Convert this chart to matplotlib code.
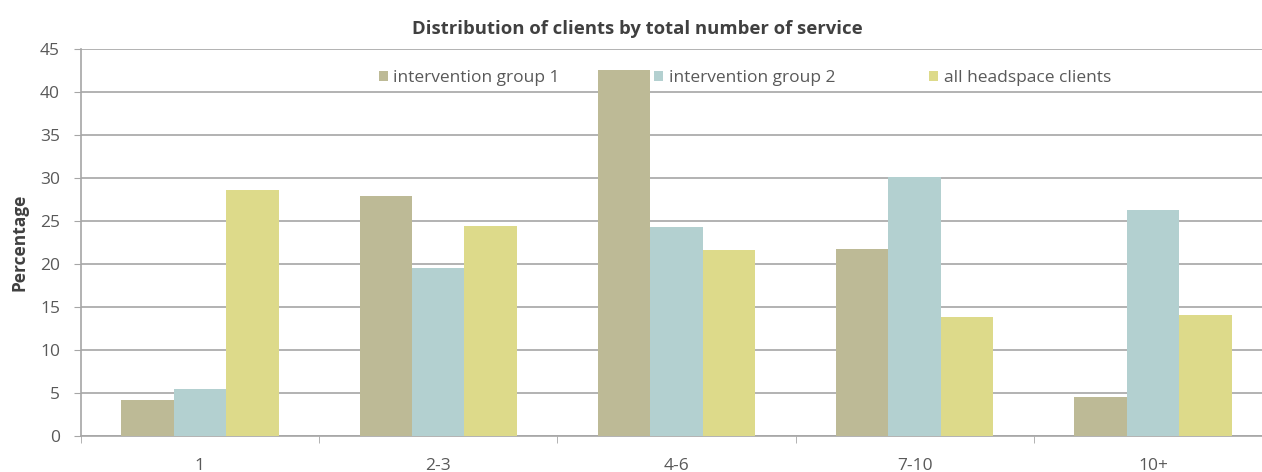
import numpy as np
import matplotlib.pyplot as plt

# Data
categories = ["1", "2-3", "4-6", "7-10", "10+"]
series_names = ["intervention group 1", "intervention group 2", "all headspace clients"]
group1 = [4.2, 27.9, 42.6, 21.7, 4.5]
group2 = [5.5, 19.5, 24.3, 30.1, 26.3]
all_clients = [28.6, 24.4, 21.6, 13.8, 14.1]
y_ticks = [0, 5, 10, 15, 20, 25, 30, 35, 40, 45]

colors = ["#BDBA96", "#B3D0D0", "#DDDA8A"]
text_color = "#595959"
grid_color = "#A6A6A6"

plt.rcParams["font.family"] = ["Open Sans", "DejaVu Sans"]

fig = plt.figure(figsize=(12.62, 4.72), dpi=100)
ax = fig.add_axes([0.064, 0.0763, 0.944, 0.82])

x = np.arange(len(categories))
width = 0.22
for i, (vals, name) in enumerate(zip([group1, group2, all_clients], series_names)):
    ax.bar(x + (i - 1) * width, vals, width, color=colors[i], label=name, zorder=3)

ax.set_xlim(-0.5, len(categories) - 0.5)
ax.set_ylim(0, 45)
ax.set_yticks(y_ticks)
ax.set_xticks(x)
ax.set_xticklabels(categories)
ax.set_xticks(np.arange(len(categories) + 1) - 0.5, minor=True)

ax.grid(axis="y", color=grid_color, linewidth=1.2, zorder=0)
ax.tick_params(axis="x", which="major", length=0, labelsize=12.5, colors=text_color, pad=16)
ax.tick_params(axis="x", which="minor", length=5, color=grid_color)
ax.tick_params(axis="y", length=5, color=grid_color, labelsize=12.5, labelcolor=text_color, pad=10)

for side in ["top", "right"]:
    ax.spines[side].set_visible(False)
for side in ["left", "bottom"]:
    ax.spines[side].set_color(grid_color)
    ax.spines[side].set_linewidth(1.2)

ax.set_ylabel("Percentage", fontsize=12.5, fontweight="bold", color="#404040", labelpad=8)
fig.suptitle("Distribution of clients by total number of service", x=0.505, y=0.958,
             fontsize=13.3, fontweight="bold", color="#404040")

ax.legend(loc="upper left", bbox_to_anchor=(0.237, 0.985), ncol=3, frameon=False,
          fontsize=12.5, handlelength=0.55, handleheight=0.55, handletextpad=0.3,
          columnspacing=5.4, labelcolor=text_color)

fig.savefig("out.png", dpi=100)
